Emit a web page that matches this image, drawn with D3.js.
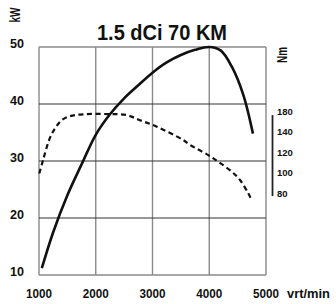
<!DOCTYPE html>
<html>
<head>
<meta charset="utf-8">
<script src="https://cdn.jsdelivr.net/npm/d3@7"></script>
<style>
  html, body { margin: 0; padding: 0; background: #fff; }
  svg { display: block; }
  text { font-family: "Liberation Sans", Arial, sans-serif; font-weight: bold; fill: #111; }
</style>
</head>
<body>
<div class="chart"></div>
<script>
(function chart() {

  'use strict';

  // engine speed ticks (rpm) and power ticks (kW)
  var rpmTicks = [1000, 2000, 3000, 4000, 5000];
  var kwTicks = [10, 20, 30, 40, 50];

  // torque scale ticks, labels as printed on the original
  var nmTicks = [80, 100, 120, 140, 160];
  var nmTickLabels = ['80', '100', '120', '140', '180'];

  // power curve (solid)
  var powerRpm = [1050, 1250, 1500, 1750, 2000, 2250, 2500, 2750, 3000, 3250, 3500, 3750, 4000, 4200, 4400, 4600, 4770];
  var powerKw = [11.2, 17.5, 24.0, 29.4, 34.6, 38.2, 41.0, 43.3, 45.5, 47.3, 48.6, 49.5, 50.0, 49.4, 46.5, 41.6, 34.8];

  // torque curve (dashed)
  var torqueRpm = [1005, 1076, 1194, 1282, 1400, 1546, 1781, 2220, 2545, 2780, 3075, 3540, 3660, 3983, 4160, 4396, 4542, 4688, 4730];
  var torqueNm = [99, 113, 134, 143, 151, 155, 156.8, 157, 156, 151, 144.7, 131.7, 127, 117, 110.5, 100.8, 92.7, 79.7, 75];

  var width = 336;
  var height = 304;

  var svg = d3.select('.chart').append('svg')
    .attr('width', width)
    .attr('height', height);

  var x = d3.scaleLinear().domain([1000, 5000]).range([39, 266]);
  var y = d3.scaleLinear().domain([10, 50]).range([275, 47]);
  var yNm = d3.scaleLinear().domain([80, 160]).range([193, 111]);

  // grid: vertical lines gray, horizontal lines dark
  svg.append('g')
    .selectAll('line')
    .data(rpmTicks)
    .enter()
    .append('line')
      .attr('x1', function (d) { return x(d); })
      .attr('x2', function (d) { return x(d); })
      .attr('y1', y(50))
      .attr('y2', y(10))
      .attr('stroke', '#8a8a8a')
      .attr('stroke-width', 1.4);

  svg.append('g')
    .selectAll('line')
    .data(kwTicks)
    .enter()
    .append('line')
      .attr('x1', x(1000))
      .attr('x2', x(5000))
      .attr('y1', function (d) { return y(d); })
      .attr('y2', function (d) { return y(d); })
      .attr('stroke', function (d) { return (d === 10 || d === 50) ? '#8a8a8a' : '#333'; })
      .attr('stroke-width', function (d) { return (d === 10 || d === 50) ? 1.4 : 1.1; });

  // left kW labels
  svg.append('g')
    .selectAll('text')
    .data(kwTicks)
    .enter()
    .append('text')
      .attr('x', 24)
      .attr('y', function (d) { return y(d) + 1; })
      .attr('text-anchor', 'end')
      .attr('font-size', 13)
      .attr('textLength', 14)
      .attr('lengthAdjust', 'spacingAndGlyphs')
      .text(function (d) { return d; });

  // bottom rpm labels
  svg.append('g')
    .selectAll('text')
    .data(rpmTicks)
    .enter()
    .append('text')
      .attr('x', function (d) { return x(d); })
      .attr('y', 298)
      .attr('text-anchor', 'middle')
      .attr('font-size', 12.5)
      .attr('textLength', 26)
      .attr('lengthAdjust', 'spacingAndGlyphs')
      .text(function (d) { return d; });

  svg.append('text')
    .attr('x', 287)
    .attr('y', 298)
    .attr('font-size', 12.5)
    .attr('textLength', 43)
    .attr('lengthAdjust', 'spacingAndGlyphs')
    .text('vrt/min');

  // torque axis on the right
  svg.append('line')
    .attr('x1', 272.5)
    .attr('x2', 272.5)
    .attr('y1', yNm(156))
    .attr('y2', yNm(77))
    .attr('stroke', '#222')
    .attr('stroke-width', 1.8);

  svg.append('g')
    .selectAll('text')
    .data(nmTicks)
    .enter()
    .append('text')
      .attr('x', 277)
      .attr('y', function (d) { return yNm(d) + 3.5; })
      .attr('font-size', 9.5)
      .text(function (d, i) { return nmTickLabels[i]; });

  // unit labels
  svg.append('text')
    .attr('transform', 'translate(20,15) rotate(-90)')
    .attr('text-anchor', 'middle')
    .attr('font-size', 14)
    .attr('textLength', 15)
    .attr('lengthAdjust', 'spacingAndGlyphs')
    .text('kW');

  svg.append('text')
    .attr('transform', 'translate(287,55) rotate(-90)')
    .attr('text-anchor', 'middle')
    .attr('font-size', 14)
    .attr('textLength', 16)
    .attr('lengthAdjust', 'spacingAndGlyphs')
    .text('Nm');

  // title
  svg.append('text')
    .attr('x', 162)
    .attr('y', 40)
    .attr('text-anchor', 'middle')
    .attr('font-size', 22)
    .attr('textLength', 130)
    .attr('lengthAdjust', 'spacingAndGlyphs')
    .text('1.5 dCi 70 KM');

  // curves
  var powerLine = d3.line()
    .x(function (d, i) { return x(powerRpm[i]); })
    .y(function (d) { return y(d); })
    .curve(d3.curveCatmullRom);

  svg.append('path')
    .attr('d', powerLine(powerKw))
    .attr('fill', 'none')
    .attr('stroke', '#111')
    .attr('stroke-width', 2.6);

  var torqueLine = d3.line()
    .x(function (d, i) { return x(torqueRpm[i]); })
    .y(function (d) { return yNm(d); })
    .curve(d3.curveCatmullRom);

  svg.append('path')
    .attr('d', torqueLine(torqueNm))
    .attr('fill', 'none')
    .attr('stroke', '#111')
    .attr('stroke-width', 2.2)
    .attr('stroke-dasharray', '5,3.5');
})();
</script>
</body>
</html>
